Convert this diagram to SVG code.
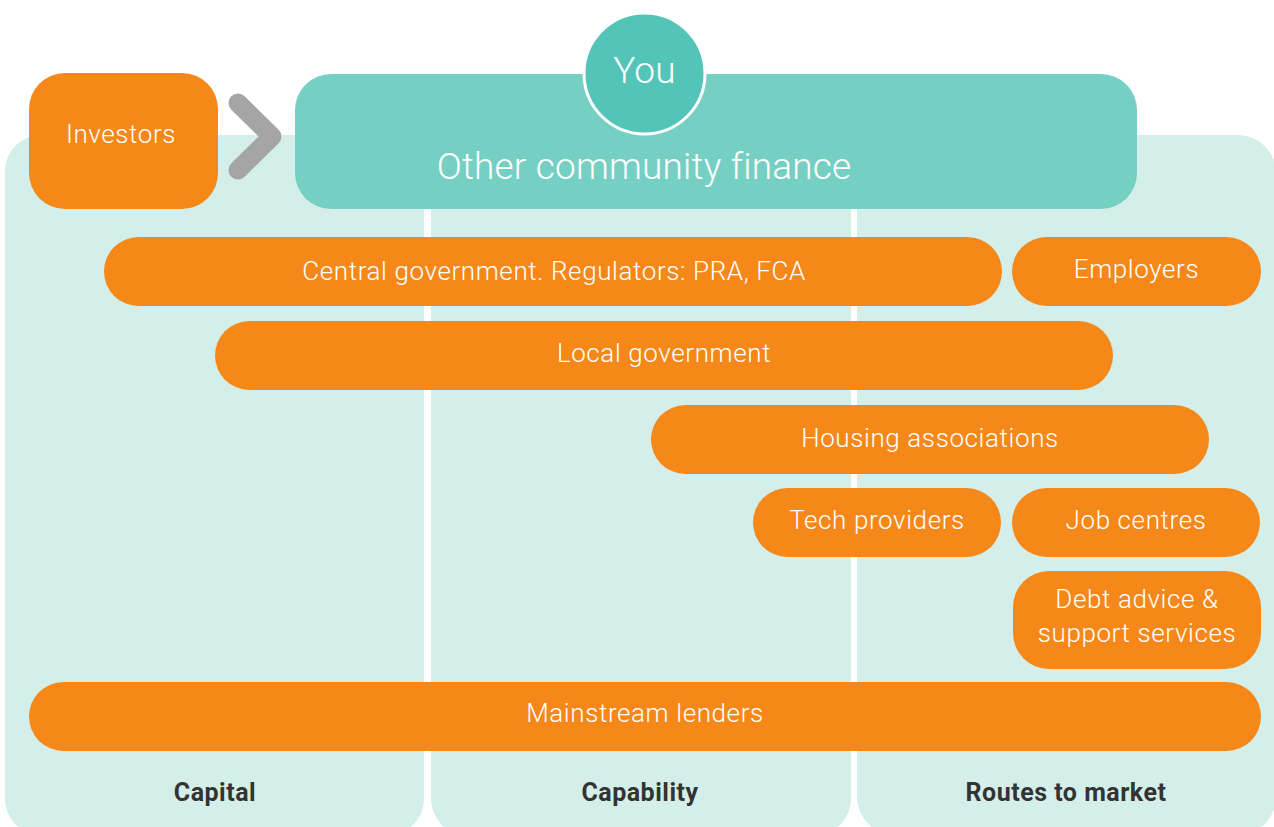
<svg xmlns="http://www.w3.org/2000/svg" width="1274" height="827" viewBox="0 0 1274 827">
  <style>
    .panel { fill: #d4efe9; }
    .pill { fill: #f58818; }
    .lbl { font-family: Roboto, "Liberation Sans", sans-serif; font-weight: 300; font-size: 26px; letter-spacing: 0.6px; fill: #ffffff; text-anchor: middle; }
    .big { font-size: 37px; letter-spacing: 0.2px; }
    .col { font-family: Roboto, "Liberation Sans", sans-serif; font-weight: 700; font-size: 25px; letter-spacing: 0.5px; fill: #333333; text-anchor: middle; }
  </style>
  <rect width="1274" height="827" fill="#ffffff"/>

  <!-- column panels -->
  <g id="columns">
    <rect class="panel" x="5" y="135" width="419" height="700" rx="36"/>
    <rect class="panel" x="431" y="135" width="420" height="700" rx="36"/>
    <rect class="panel" x="857" y="135" width="419" height="700" rx="38"/>
    <text class="col" x="215" y="801">Capital</text>
    <text class="col" x="640" y="801">Capability</text>
    <text class="col" x="1066" y="801">Routes to market</text>
  </g>

  <!-- connectors -->
  <g id="connectors">
    <polyline points="238,103 272,136.5 238,170" fill="none" stroke="#a5a5a5" stroke-width="19" stroke-linecap="round" stroke-linejoin="round"/>
  </g>

  <g id="investors">
    <rect class="pill" x="29" y="73" width="189" height="136" rx="36"/>
    <text class="lbl" x="121" y="143">Investors</text>
  </g>

  <g id="community-finance">
    <rect x="295" y="74" width="842" height="135" rx="36" fill="#75d0c3"/>
    <text class="lbl big" x="644" y="179">Other community finance</text>
  </g>

  <g id="you">
    <circle cx="644.5" cy="73.5" r="60.5" fill="#52c4b8" stroke="#ffffff" stroke-width="3"/>
    <text class="lbl big" x="644.5" y="83">You</text>
  </g>

  <g id="central-government">
    <rect class="pill" x="104" y="237" width="898" height="69" rx="34.5"/>
    <text class="lbl" x="554" y="280">Central government. Regulators: PRA, FCA</text>
  </g>

  <g id="employers">
    <rect class="pill" x="1012" y="237" width="249" height="69" rx="34.5"/>
    <text class="lbl" x="1136.5" y="278">Employers</text>
  </g>

  <g id="local-government">
    <rect class="pill" x="215" y="321" width="898" height="69" rx="34.5"/>
    <text class="lbl" x="664" y="362">Local government</text>
  </g>

  <g id="housing-associations">
    <rect class="pill" x="651" y="405" width="558" height="69" rx="34.5"/>
    <text class="lbl" x="930" y="447">Housing associations</text>
  </g>

  <g id="tech-providers">
    <rect class="pill" x="753" y="488" width="248" height="69" rx="34.5"/>
    <text class="lbl" x="877" y="529">Tech providers</text>
  </g>

  <g id="job-centres">
    <rect class="pill" x="1012" y="488" width="248" height="69" rx="34.5"/>
    <text class="lbl" x="1136" y="529">Job centres</text>
  </g>

  <g id="debt-advice">
    <rect class="pill" x="1013" y="571" width="248" height="98" rx="36"/>
    <text class="lbl" x="1137" y="608">Debt advice &amp;</text>
    <text class="lbl" x="1137" y="642">support services</text>
  </g>

  <g id="mainstream-lenders">
    <rect class="pill" x="29" y="682" width="1232" height="69" rx="34.5"/>
    <text class="lbl" x="645" y="722">Mainstream lenders</text>
  </g>
</svg>
